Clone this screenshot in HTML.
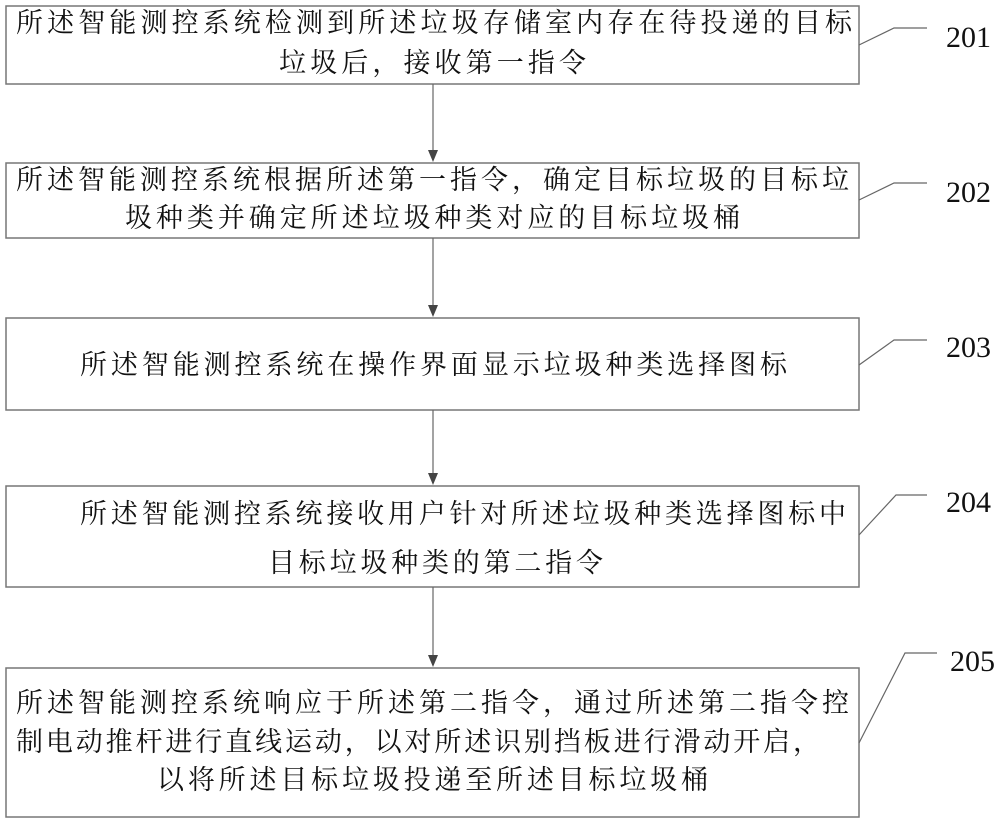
<!DOCTYPE html>
<html><head><meta charset="utf-8"><style>
html,body{margin:0;padding:0;background:#fff}
svg{display:block}
text{font-family:"Liberation Serif","Noto Serif CJK SC",serif;fill:#111}
.t{font-size:27px}
.n{font-size:30px}
</style></head><body>
<svg width="1000" height="825" viewBox="0 0 1000 825" xmlns="http://www.w3.org/2000/svg">
<g fill="#fff" stroke="#777" stroke-width="1.5">
<rect x="6" y="6" width="853" height="78"/>
<rect x="6" y="163" width="853" height="75"/>
<rect x="6" y="318" width="853" height="92"/>
<rect x="6" y="486" width="853" height="101"/>
<rect x="6" y="668" width="853" height="149"/>
</g>
<g stroke="#666" stroke-width="1.2" fill="none">
<line x1="433" y1="84" x2="433" y2="150"/>
<line x1="433" y1="238" x2="433" y2="305"/>
<line x1="433" y1="410" x2="433" y2="473"/>
<line x1="433" y1="587" x2="433" y2="655"/>
<polyline points="859,45 894,28 927,28"/>
<polyline points="859,200 894,183 927,183"/>
<polyline points="859,365 894,340 927,340"/>
<polyline points="859,535 896,495 927,495"/>
<polyline points="859,743 905,653 937,653"/>
</g>
<g fill="#444">
<path d="M428,150 L438,150 L433,162 Z"/>
<path d="M428,305 L438,305 L433,317 Z"/>
<path d="M428,473 L438,473 L433,485 Z"/>
<path d="M428,655 L438,655 L433,667 Z"/>
</g>
<g class="t">
<text x="16" y="32" textLength="836" lengthAdjust="spacing">所述智能测控系统检测到所述垃圾存储室内存在待投递的目标</text>
<text x="279" y="72" textLength="307" lengthAdjust="spacing">垃圾后，接收第一指令</text>
<text x="16" y="189" textLength="833" lengthAdjust="spacing">所述智能测控系统根据所述第一指令，确定目标垃圾的目标垃</text>
<text x="125" y="227" textLength="615" lengthAdjust="spacing">圾种类并确定所述垃圾种类对应的目标垃圾桶</text>
<text x="80" y="374" textLength="707" lengthAdjust="spacing">所述智能测控系统在操作界面显示垃圾种类选择图标</text>
<text x="80" y="523" textLength="766" lengthAdjust="spacing">所述智能测控系统接收用户针对所述垃圾种类选择图标中</text>
<text x="268" y="572" textLength="335" lengthAdjust="spacing">目标垃圾种类的第二指令</text>
<text x="16" y="712" textLength="833" lengthAdjust="spacing">所述智能测控系统响应于所述第二指令，通过所述第二指令控</text>
<text x="16" y="751" textLength="804" lengthAdjust="spacing">制电动推杆进行直线运动，以对所述识别挡板进行滑动开启，</text>
<text x="157" y="789" textLength="551" lengthAdjust="spacing">以将所述目标垃圾投递至所述目标垃圾桶</text>
</g>
<g class="n">
<text x="946" y="47">201</text>
<text x="946" y="202">202</text>
<text x="946" y="357">203</text>
<text x="946" y="512">204</text>
<text x="950" y="671">205</text>
</g>
</svg>
</body></html>
